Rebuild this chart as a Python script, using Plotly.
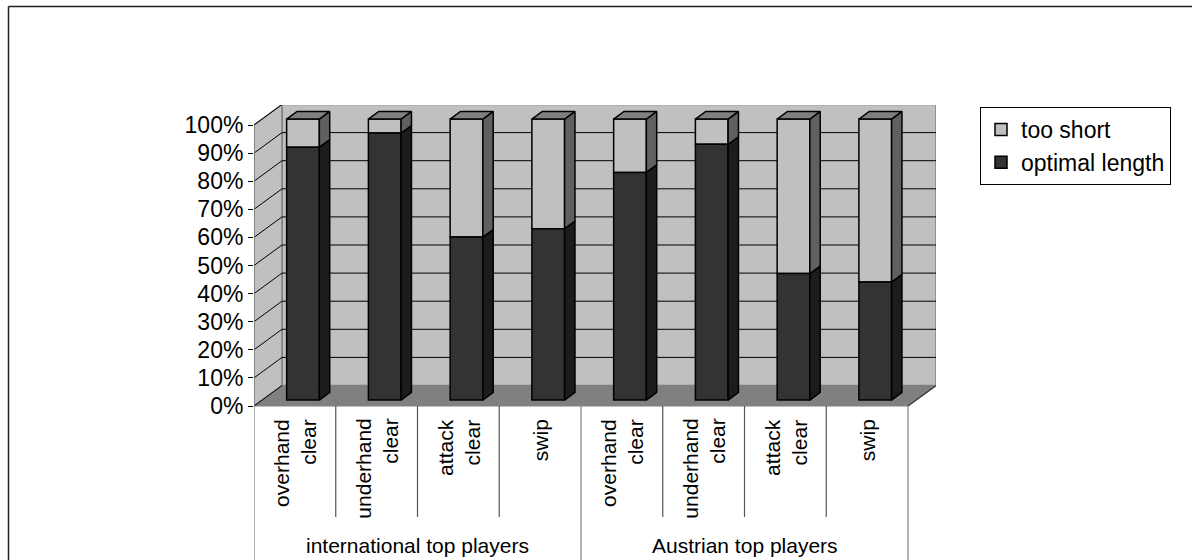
import numpy as np
import plotly.graph_objects as go

# ---------------- data ----------------
groups = ["international top players", "Austrian top players"]
strokes = ["overhand<br>clear", "underhand<br>clear", "attack<br>clear", "swip"]
categories = [s for g in groups for s in strokes]
optimal_length = [90, 95, 58, 61, 81, 91, 45, 42]
too_short = [100 - v for v in optimal_length]
tick_vals = list(range(0, 101, 10))
tick_text = [f"{v}%" for v in tick_vals]

# ---------------- pseudo-3D geometry (in axis units) ----------------
PX_X = 81.75          # pixels per category
PX_Y = 2.81           # pixels per percent
DEPTH_X = 28 / PX_X   # full-depth offset in x units
DEPTH_Y = 20.5 / PX_Y # full-depth offset in y units
D1, D2 = 0.29, 0.66   # bar front / back depth fractions
BAR_W = 0.40

n = len(categories)
xr0, xr1 = -0.5, -0.5 + 682 / PX_X
yr0, yr1 = (406 - 560) / PX_Y, (406 - 105) / PX_Y

FONT = "Arial, Liberation Sans, sans-serif"
C_DARK, C_DARK_SIDE = "#333333", "#1c1c1c"
C_LIGHT, C_LIGHT_SIDE = "#c0c0c0", "#606060"
C_TOP = "#808080"

fig = go.Figure()

x_front = np.arange(n) + D1 * DEPTH_X
y_off = D1 * DEPTH_Y
ddx = (D2 - D1) * DEPTH_X
ddy = (D2 - D1) * DEPTH_Y

fig.add_trace(go.Bar(
    x=x_front, y=too_short, base=[y_off + v for v in optimal_length],
    width=BAR_W, name="too short",
    marker=dict(color=C_LIGHT, line=dict(color="black", width=1.5)),
    hoverinfo="skip"))
fig.add_trace(go.Bar(
    x=x_front, y=optimal_length, base=[y_off] * n,
    width=BAR_W, name="optimal length",
    marker=dict(color=C_DARK, line=dict(color="black", width=1.5)),
    hoverinfo="skip"))

def side_poly(xs, bottoms, tops):
    px, py = [], []
    for xc, b, t in zip(xs, bottoms, tops):
        xr = xc + BAR_W / 2
        px += [xr, xr, xr + ddx, xr + ddx, xr, None]
        py += [b, t, t + ddy, b + ddy, b, None]
    return px, py

sx, sy = side_poly(x_front, [y_off] * n, [y_off + v for v in optimal_length])
fig.add_trace(go.Scatter(x=sx, y=sy, mode="lines", fill="toself",
                         fillcolor=C_DARK_SIDE, line=dict(color="black", width=1.5),
                         showlegend=False, hoverinfo="skip"))
sx, sy = side_poly(x_front, [y_off + v for v in optimal_length], [y_off + 100] * n)
fig.add_trace(go.Scatter(x=sx, y=sy, mode="lines", fill="toself",
                         fillcolor=C_LIGHT_SIDE, line=dict(color="black", width=1.5),
                         showlegend=False, hoverinfo="skip"))
tx, ty = [], []
for xc in x_front:
    xl, xr = xc - BAR_W / 2, xc + BAR_W / 2
    t = y_off + 100
    tx += [xl, xr, xr + ddx, xl + ddx, xl, None]
    ty += [t, t, t + ddy, t + ddy, t, None]
fig.add_trace(go.Scatter(x=tx, y=ty, mode="lines", fill="toself",
                         fillcolor=C_TOP, line=dict(color="black", width=1.5),
                         showlegend=False, hoverinfo="skip"))

shapes = []
bx0 = -0.5 + DEPTH_X
bx1 = n - 0.5 + DEPTH_X
# back wall
shapes.append(dict(type="rect", xref="x", yref="y", x0=bx0, x1=bx1,
                   y0=DEPTH_Y, y1=100 + DEPTH_Y, fillcolor=C_LIGHT,
                   line=dict(color="#808080", width=1.5), layer="below"))
# side wall
shapes.append(dict(type="path", xref="x", yref="y",
                   path=f"M {-0.5},0 L {-0.5},100 L {bx0},{100 + DEPTH_Y} L {bx0},{DEPTH_Y} Z",
                   fillcolor=C_LIGHT, line=dict(color="#808080", width=1.5), layer="below"))
# floor
shapes.append(dict(type="path", xref="x", yref="y",
                   path=f"M {-0.5},0 L {n - 0.5},0 L {bx1},{DEPTH_Y} L {bx0},{DEPTH_Y} Z",
                   fillcolor="#808080", line=dict(color="#808080", width=1), layer="below"))
shapes.append(dict(type="line", xref="x", yref="y", x0=n - 0.5, y0=0, x1=bx1, y1=DEPTH_Y,
                   line=dict(color="#404040", width=1.5), layer="below"))
# gridlines
for v in tick_vals:
    if 0 < v < 100:
        shapes.append(dict(type="line", xref="x", yref="y", x0=bx0, x1=bx1,
                           y0=v + DEPTH_Y, y1=v + DEPTH_Y,
                           line=dict(color="black", width=1), layer="below"))
    shapes.append(dict(type="line", xref="x", yref="y", x0=-0.5, x1=bx0,
                       y0=v, y1=v + DEPTH_Y, line=dict(color="black", width=1), layer="below"))
# front left axis edge
shapes.append(dict(type="line", xref="x", yref="y", x0=-0.5, x1=-0.5, y0=0, y1=100,
                   line=dict(color="#808080", width=1.5)))
# category label grid
y_inner = (406 - 517) / PX_Y
for k in range(n + 1):
    full = k % len(strokes) == 0
    shapes.append(dict(type="line", xref="x", yref="y", x0=k - 0.5, x1=k - 0.5,
                       y0=0, y1=yr0 if full else y_inner,
                       line=dict(color="#555555" if not full else "#808080", width=1.2)))
# outer chart border (left & top)
def px2paper_x(p):
    return (p - 254) / 682
def px2paper_y(p):
    return (560 - p) / 455
shapes.append(dict(type="line", xref="paper", yref="paper",
                   x0=px2paper_x(8.5), x1=px2paper_x(8.5), y0=px2paper_y(6.5), y1=px2paper_y(565),
                   line=dict(color="#222222", width=1.5)))
shapes.append(dict(type="line", xref="paper", yref="paper",
                   x0=px2paper_x(8.5), x1=px2paper_x(1200), y0=px2paper_y(6.5), y1=px2paper_y(6.5),
                   line=dict(color="#222222", width=1.5)))

annotations = []
y_lab = (406 - 417) / PX_Y
for i, c in enumerate(categories):
    annotations.append(dict(x=i, y=y_lab, xref="x", yref="y", text=c, textangle=-90,
                            showarrow=False, xanchor="center", yanchor="top", align="right",
                            font=dict(family=FONT, size=21, color="black")))
y_grp = (406 - 545) / PX_Y
for gi, g in enumerate(groups):
    annotations.append(dict(x=gi * len(strokes) + (len(strokes) - 1) / 2, y=y_grp,
                            xref="x", yref="y", text=g, showarrow=False,
                            xanchor="center", yanchor="middle",
                            font=dict(family=FONT, size=21, color="black")))

fig.update_layout(
    width=1192, height=560,
    margin=dict(l=254, r=256, t=105, b=0),
    paper_bgcolor="white", plot_bgcolor="white",
    barmode="overlay",
    showlegend=True,
    legend=dict(x=px2paper_x(980), y=px2paper_y(107), xanchor="left", yanchor="top",
                bgcolor="white", bordercolor="black", borderwidth=1, itemwidth=30,
                font=dict(family=FONT, size=23, color="black"), traceorder="normal"),
    xaxis=dict(range=[xr0, xr1], showticklabels=False, showgrid=False, zeroline=False,
               showline=False, ticks=""),
    yaxis=dict(range=[yr0, yr1], tickvals=tick_vals, ticktext=tick_text, ticks="outside",
               ticklen=5, tickcolor="black", showgrid=False, zeroline=False, showline=False,
               tickfont=dict(family=FONT, size=23, color="black")),
    shapes=shapes, annotations=annotations,
    font=dict(family=FONT),
)

fig.write_html("out.html")
